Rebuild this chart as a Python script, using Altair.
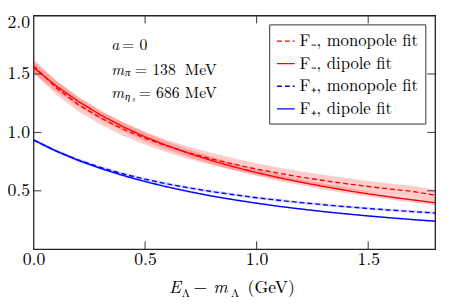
import altair as alt
import pandas as pd

# ---- data ----
x_vals = [0.0, 0.1, 0.2, 0.3, 0.4, 0.5, 0.6, 0.7, 0.8, 0.9,
          1.0, 1.1, 1.2, 1.3, 1.4, 1.5, 1.6, 1.7, 1.8]
fm_mono = [1.570, 1.385, 1.240, 1.125, 1.030, 0.950, 0.882, 0.823, 0.772, 0.727,
           0.686, 0.650, 0.617, 0.588, 0.561, 0.537, 0.515, 0.495, 0.462]
fm_dip = [1.555, 1.400, 1.266, 1.150, 1.050, 0.962, 0.886, 0.818, 0.758, 0.704,
          0.656, 0.612, 0.573, 0.537, 0.504, 0.474, 0.447, 0.422, 0.398]
fp_mono = [0.935, 0.841, 0.764, 0.700, 0.646, 0.599, 0.559, 0.524, 0.493, 0.466,
           0.441, 0.419, 0.399, 0.381, 0.364, 0.349, 0.335, 0.322, 0.310]
fp_dip = [0.935, 0.842, 0.761, 0.692, 0.632, 0.579, 0.533, 0.492, 0.455, 0.423,
          0.394, 0.367, 0.344, 0.322, 0.303, 0.285, 0.269, 0.254, 0.240]
fm_mono_err = [0.060, 0.059, 0.058, 0.057, 0.056, 0.055, 0.054, 0.053, 0.052, 0.051,
               0.050, 0.050, 0.049, 0.049, 0.048, 0.048, 0.047, 0.047, 0.047]
fm_dip_err = [0.050, 0.047, 0.044, 0.041, 0.039, 0.037, 0.035, 0.033, 0.031, 0.030,
              0.028, 0.027, 0.026, 0.025, 0.024, 0.023, 0.022, 0.021, 0.021]
fp_mono_err = [0.015, 0.015, 0.015, 0.014, 0.014, 0.014, 0.014, 0.013, 0.013, 0.013,
               0.013, 0.013, 0.012, 0.012, 0.012, 0.012, 0.012, 0.012, 0.012]
fp_dip_err = [0.010, 0.010, 0.010, 0.010, 0.009, 0.009, 0.009, 0.009, 0.009, 0.009,
              0.008, 0.008, 0.008, 0.008, 0.008, 0.008, 0.008, 0.008, 0.008]

series_names = ["F\u208b, monopole fit", "F\u208b, dipole fit",
                "F\u208a, monopole fit", "F\u208a, dipole fit"]
series_colors = ["#ff0000", "#ff0000", "#0000ff", "#0000ff"]
series_dash = [[5, 3], [1, 0], [5, 3], [1, 0]]
band_group = ["red", "red", "blue", "blue"]

x_ticks = [0.0, 0.5, 1.0, 1.5]
y_ticks = [0.5, 1.0, 1.5, 2.0]
inner_x_ticks = [0.5, 1.0, 1.5]
inner_y_ticks = [0.5, 1.0, 1.5]

# ---- build table ----
rows = []
for name, vals, errs, grp in zip(series_names,
                                 [fm_mono, fm_dip, fp_mono, fp_dip],
                                 [fm_mono_err, fm_dip_err, fp_mono_err, fp_dip_err],
                                 band_group):
    for xv, v, e in zip(x_vals, vals, errs):
        rows.append({"x": xv, "y": v, "lo": v - e, "hi": v + e,
                     "series": name, "group": grp})
df = pd.DataFrame(rows)

W, H = 409, 238
FONT = "Latin Modern Roman"

xs = alt.Scale(domain=[0, 1.8], nice=False, zero=False)
ys = alt.Scale(domain=[0, 2.0], nice=False, zero=False)

xaxis = alt.Axis(values=x_ticks, format=".1f", ticks=False, domain=False, grid=False,
                 labelFont=FONT, labelFontSize=18, labelColor="black",
                 labelPadding=2, labelFlush=False, title=None)
yaxis = alt.Axis(values=y_ticks, format=".1f", ticks=False, domain=False, grid=False,
                 labelFont=FONT, labelFontSize=18, labelColor="black",
                 labelPadding=4, labelFlush=True, labelFlushOffset=2, title=None)

base = alt.Chart(df)

red_band = base.transform_filter(alt.datum.group == "red").mark_area(
    color="#ff0000", opacity=0.2).encode(
    x=alt.X("x:Q", scale=xs, axis=xaxis),
    y=alt.Y("lo:Q", scale=ys, axis=yaxis),
    y2="hi:Q",
    detail="series:N")

blue_band = base.transform_filter(alt.datum.group == "blue").mark_area(
    color="#0000ff", opacity=0.15).encode(
    x=alt.X("x:Q", scale=xs),
    y=alt.Y("lo:Q", scale=ys),
    y2="hi:Q",
    detail="series:N")

lines = base.mark_line(strokeWidth=1.4).encode(
    x=alt.X("x:Q", scale=xs),
    y=alt.Y("y:Q", scale=ys),
    color=alt.Color("series:N", scale=alt.Scale(domain=series_names, range=series_colors),
                    legend=alt.Legend(title=None)),
    strokeDash=alt.StrokeDash("series:N",
                              scale=alt.Scale(domain=series_names, range=series_dash),
                              legend=alt.Legend(title=None)),
)

tx = pd.DataFrame({"t": inner_x_ticks})
ty = pd.DataFrame({"t": inner_y_ticks})
tick_style = dict(color="#333333", strokeWidth=1)
ticks_bottom = alt.Chart(tx).mark_rule(**tick_style).encode(
    x=alt.X("t:Q", scale=xs), y=alt.value(H), y2=alt.value(H - 8))
ticks_top = alt.Chart(tx).mark_rule(**tick_style).encode(
    x=alt.X("t:Q", scale=xs), y=alt.value(0), y2=alt.value(8))
ticks_left = alt.Chart(ty).mark_rule(**tick_style).encode(
    y=alt.Y("t:Q", scale=ys), x=alt.value(0), x2=alt.value(8))
ticks_right = alt.Chart(ty).mark_rule(**tick_style).encode(
    y=alt.Y("t:Q", scale=ys), x=alt.value(W), x2=alt.value(W - 8))

# ---- annotation text (data coordinates) ----
ann_x = 0.348
ann_y = [1.747, 1.533, 1.340]
ann = pd.DataFrame({"x": [ann_x] * 3, "y": ann_y})


def txt(i, s, dx=0, dy=0, size=16, style="normal"):
    return alt.Chart(ann.iloc[[i]]).mark_text(
        text=s, align="left", baseline="middle", dx=dx, dy=dy,
        font=FONT, fontSize=size, fontStyle=style, color="black").encode(
        x=alt.X("x:Q", scale=xs), y=alt.Y("y:Q", scale=ys))


ann_layers = [
    txt(0, "a", style="italic"), txt(0, "= 0", dx=11),
    txt(1, "m", style="italic"), txt(1, "\u03c0", dx=14, dy=3, size=11, style="italic"),
    txt(1, "= 138", dx=24), txt(1, "MeV", dx=75),
    txt(2, "m", style="italic"), txt(2, "\u03b7", dx=14, dy=4, size=11, style="italic"),
    txt(2, "s", dx=21, dy=7, size=8, style="italic"),
    txt(2, "= 686", dx=28), txt(2, "MeV", dx=75),
]

# ---- x-axis title pieces (pixel positions below the plot) ----
TY = 278


def ttl(s, xpx, dy=0, size=18, style="normal"):
    return alt.Chart(pd.DataFrame({"a": [0]})).mark_text(
        text=s, align="left", baseline="middle", dy=dy,
        font=FONT, fontSize=size, fontStyle=style, color="black").encode(
        x=alt.value(xpx), y=alt.value(TY))


title_layers = [
    ttl("E", 138, style="italic"),
    ttl("\u039b", 151, dy=5, size=12),
    ttl("\u2212", 163),
    ttl("m", 183, style="italic"),
    ttl("\u039b", 201, dy=5, size=12),
    ttl("(GeV)", 218),
]

chart = alt.layer(
    red_band, blue_band, lines,
    ticks_bottom, ticks_top, ticks_left, ticks_right,
    *ann_layers, *title_layers
).properties(
    width=W, height=H,
    autosize=alt.AutoSizeParams(type="none"),
    padding={"left": 26, "top": 5, "right": 7, "bottom": 49},
).configure_view(
    stroke="#222222", strokeWidth=1.3
).configure_legend(
    orient="none", legendX=240, legendY=9,
    strokeColor="#333333", fillColor="white", padding=7,
    labelFont=FONT, labelFontSize=17, labelColor="black",
    symbolType="stroke", symbolSize=324, symbolStrokeWidth=1.4,
    rowPadding=5, labelOffset=4, cornerRadius=0,
)

chart.save("out.html", embed_options={"renderer": "svg", "actions": False})
